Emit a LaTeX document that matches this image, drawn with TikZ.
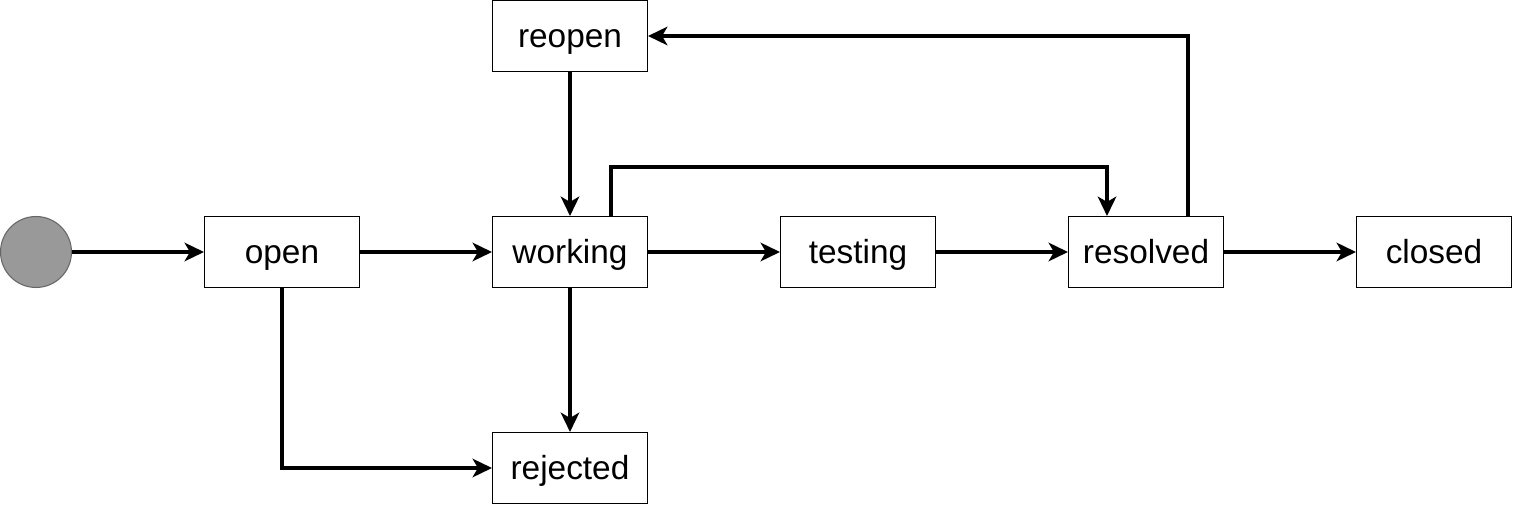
\documentclass[tikz,border=0pt]{standalone}
\usepackage{fontspec}
\setmainfont{Liberation Sans}
\usetikzlibrary{arrows.meta}
\definecolor{startfill}{HTML}{999999}
\definecolor{startline}{HTML}{666666}
\tikzset{
  state/.style={draw=black,line width=0.6pt,fill=white,minimum width=3.1cm,minimum height=1.42cm,inner sep=0pt,text height=2.9ex,text depth=0.42ex,font=\fontsize{19}{22}\selectfont},
  flow/.style={line width=2pt,-{Stealth[length=11pt,width=10.5pt,inset=3pt]}}
}
\begin{document}
\begin{tikzpicture}[x=0.02cm,y=-0.02cm]
\useasboundingbox (0,0) rectangle (1514,506);
\node[shape=circle,draw=startline,fill=startfill,line width=0.6pt,minimum size=1.42cm,inner sep=0pt] (S) at (36,252) {};
\node[state] (open) at (282,252) {open};
\node[state] (working) at (570,252) {working};
\node[state] (testing) at (858,252) {testing};
\node[state] (resolved) at (1146,252) {resolved};
\node[state] (closed) at (1434,252) {closed};
\node[state] (reopen) at (570,36) {reopen};
\node[state] (rejected) at (570,468) {rejected};
\draw[flow] (S) -- (open);
\draw[flow] (open) -- (working);
\draw[flow] (working) -- (testing);
\draw[flow] (testing) -- (resolved);
\draw[flow] (resolved) -- (closed);
\draw[flow] (reopen) -- (working);
\draw[flow] (working) -- (rejected);
\draw[flow] (open.south) |- (rejected.west);
\draw[flow] ([xshift=0.82cm]working.north) -- ++(0,-49) -| ([xshift=-0.78cm]resolved.north);
\draw[flow] ([xshift=0.84cm]resolved.north) |- (reopen.east);
\end{tikzpicture}
\end{document}
